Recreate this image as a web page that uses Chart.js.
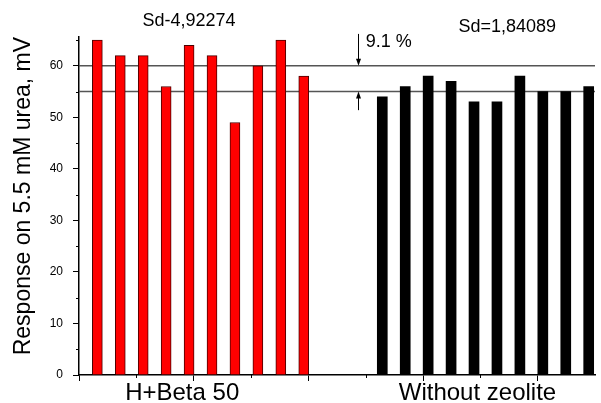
<!DOCTYPE html>
<html lang="en">
<head>
  <meta charset="UTF-8" />
  <title>Response on 5.5 mM urea</title>
  <script src="https://cdn.jsdelivr.net/npm/chart.js"></script>
  <style>
    html, body { margin: 0; padding: 0; background: #fff; }
    #wrap { width: 601px; height: 403px; position: relative; }
  </style>
</head>
<body>
  <div id="wrap"><canvas id="chart"></canvas></div>
  <script>
    // categories (centre of each group on the x axis)
    const categories = ['H+Beta 50', 'Without zeolite'];
    const categoryPos = [1.8, 6.95];

    // H+Beta 50 series
    const hBetaX = [0.32, 0.72, 1.12, 1.52, 1.92, 2.32, 2.72, 3.12, 3.52, 3.92];
    const hBetaY = [65, 62, 62, 56, 64, 62, 49, 60, 65, 58];

    // Without zeolite series
    const noZeoX = [5.29, 5.69, 6.09, 6.49, 6.89, 7.29, 7.69, 8.09, 8.49, 8.89];
    const noZeoY = [54, 56, 58, 57, 53, 53, 58, 55, 55, 56];

    // reference levels (9.1 % band)
    const refLevels = [60, 55];

    // axis ticks
    const xMajor = [0, 2, 4, 6, 8];
    const xMinor = [1, 3, 5, 7];
    const yMinor = [5, 15, 25, 35, 45, 55, 65];

    const FONT = '"Liberation Sans", Arial, sans-serif';
    Chart.defaults.font.family = FONT;
    Chart.defaults.color = '#000';

    const pts = (xs, ys) => xs.map((v, i) => ({ x: v, y: ys[i] }));
    const isCat = v => categoryPos.some(c => Math.abs(c - v) < 1e-6);

    function arrow(ctx, px, fromY, toY) {
      const dir = toY > fromY ? 1 : -1;
      ctx.beginPath();
      ctx.moveTo(px, fromY);
      ctx.lineTo(px, toY - dir * 6);
      ctx.stroke();
      ctx.beginPath();
      ctx.moveTo(px, toY);
      ctx.lineTo(px - 2.5, toY - dir * 7);
      ctx.lineTo(px + 2.5, toY - dir * 7);
      ctx.closePath();
      ctx.fill();
    }

    // minor ticks, arrows and notes
    const extras = {
      id: 'extras',
      afterDraw(chart) {
        const { ctx, scales: { x, y } } = chart;
        ctx.save();
        ctx.strokeStyle = '#000';
        ctx.fillStyle = '#000';
        ctx.lineWidth = 1;
        ctx.beginPath();
        yMinor.forEach(v => {
          const py = Math.round(y.getPixelForValue(v)) + 0.5;
          ctx.moveTo(x.left - 3, py);
          ctx.lineTo(x.left, py);
        });
        xMinor.forEach(v => {
          const px = Math.round(x.getPixelForValue(v)) + 0.5;
          ctx.moveTo(px, y.bottom);
          ctx.lineTo(px, y.bottom + 3);
        });
        ctx.stroke();

        const ax = Math.round(x.getPixelForValue(4.87)) + 0.5;
        arrow(ctx, ax, y.getPixelForValue(66.2), y.getPixelForValue(60));
        arrow(ctx, ax, y.getPixelForValue(51.4), y.getPixelForValue(55));

        ctx.font = '18px ' + FONT;
        ctx.textBaseline = 'alphabetic';
        ctx.textAlign = 'center';
        ctx.fillText('Sd-4,92274', x.getPixelForValue(1.92), y.getPixelForValue(67.8));
        ctx.fillText('Sd=1,84089', x.getPixelForValue(7.47), y.getPixelForValue(66.6));
        ctx.textAlign = 'left';
        ctx.fillText('9.1 %', x.getPixelForValue(5.0), y.getPixelForValue(63.7));
        ctx.restore();
      }
    };

    new Chart(document.getElementById('chart'), {
      type: 'bar',
      data: {
        datasets: [
          {
            label: 'H+Beta 50',
            data: pts(hBetaX, hBetaY),
            backgroundColor: '#ff0000',
            borderColor: '#4a0000',
            borderWidth: 1,
            grouped: false,
            barPercentage: 1,
            categoryPercentage: 1,
            maxBarThickness: 10
          },
          {
            label: 'Without zeolite',
            data: pts(noZeoX, noZeoY),
            backgroundColor: '#000',
            borderWidth: 0,
            grouped: false,
            barPercentage: 1,
            categoryPercentage: 1,
            maxBarThickness: 10
          },
          ...refLevels.map(v => ({
            type: 'line',
            data: [{ x: 0, y: v }, { x: 9, y: v }],
            borderColor: '#555',
            borderWidth: 1.5,
            pointRadius: 0
          }))
        ]
      },
      options: {
        responsive: true,
        maintainAspectRatio: false,
        animation: false,
        layout: { padding: { top: 37, right: 6, left: 0, bottom: 0 } },
        plugins: { legend: { display: false }, tooltip: { enabled: false } },
        scales: {
          x: {
            type: 'linear',
            min: 0,
            max: 9,
            offset: false,
            afterBuildTicks: s => {
              s.ticks = xMajor.concat(categoryPos).sort((a, b) => a - b).map(v => ({ value: v }));
            },
            afterFit: s => { s.height = 28; },
            ticks: {
              autoSkip: false,
              maxRotation: 0,
              minRotation: 0,
              padding: 0,
              color: '#000',
              font: { size: 24, lineHeight: 1 },
              callback: v => isCat(v) ? categories[categoryPos.findIndex(c => Math.abs(c - v) < 1e-6)] : ''
            },
            grid: {
              offset: false,
              drawOnChartArea: false,
              tickLength: 6,
              tickWidth: 1,
              tickColor: c => (c.tick && isCat(c.tick.value)) ? 'rgba(0,0,0,0)' : '#000'
            },
            border: { color: '#000', width: 1.5 }
          },
          y: {
            min: 0,
            max: 65.6,
            afterFit: s => { s.width = 79; },
            ticks: {
              stepSize: 10,
              includeBounds: false,
              padding: 10,
              color: '#000',
              font: { size: 12 }
            },
            grid: { drawOnChartArea: false, tickLength: 6, tickWidth: 1, tickColor: '#000' },
            border: { color: '#000', width: 1.5 },
            title: {
              display: true,
              text: 'Response on 5.5 mM urea, mV',
              align: 'end',
              color: '#000',
              font: { size: 23 },
              padding: { top: 10, bottom: 0 }
            }
          }
        }
      },
      plugins: [extras]
    });
  </script>
</body>
</html>
